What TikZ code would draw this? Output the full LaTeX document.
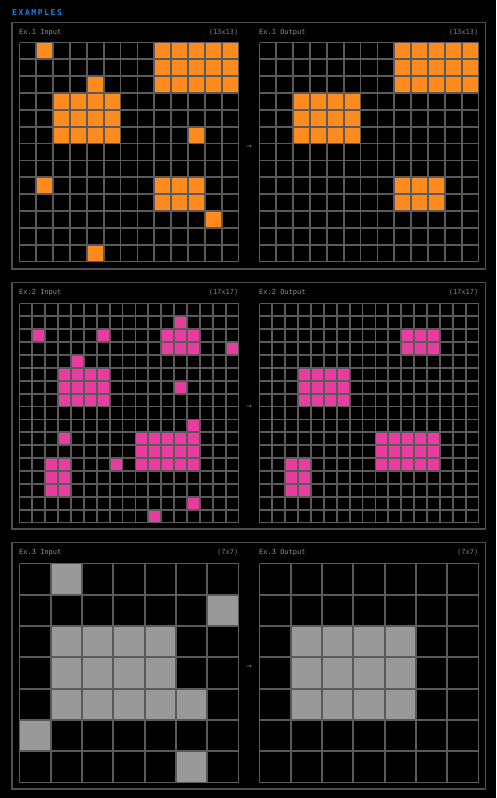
\documentclass[tikz,border=0pt]{standalone}
\usepackage{fontspec}
\setmonofont{DejaVu Sans Mono}
\newfontfamily\titlefont[LetterSpace=20]{DejaVu Sans Mono Bold}
\newfontfamily\arrowfont{DejaVu Sans}
\definecolor{bgc}{HTML}{000000}
\definecolor{gridc}{HTML}{5A5A5A}
\definecolor{panelc}{HTML}{4E4E4E}
\definecolor{labelc}{HTML}{929292}
\definecolor{dimc}{HTML}{808080}
\definecolor{bluec}{HTML}{1E80EA}
\definecolor{orangec}{HTML}{FF8A1E}
\definecolor{pinkc}{HTML}{E83CA0}
\definecolor{grayc}{HTML}{999999}
\tikzset{
  gridline/.style={draw=gridc, line width=1.8pt},
  panelbox/.style={draw=panelc, line width=1.1pt},
  lbl/.style={text=labelc, font=\ttfamily\fontsize{7}{7}\selectfont, inner sep=0pt},
  dimlbl/.style={text=dimc, font=\ttfamily\fontsize{7}{7}\selectfont, inner sep=0pt},
  arrowlbl/.style={text=labelc, font=\arrowfont\fontsize{6.5}{6.5}\selectfont, inner sep=0pt},
}
% #1 x0, #2 y0, #3 n, #4 size
\newcommand\mygrid[4]{%
  \pgfmathsetmacro\gcs{#4/#3}%
  \foreach \i in {0,...,#3} {
    \draw[gridline] (#1+\i*\gcs, #2) -- ++(0,#4);
    \draw[gridline] (#1, #2+\i*\gcs) -- ++(#4,0);
  }%
}
% #1 x0, #2 y0, #3 cell size, #4 colour, #5 list r1/c1/r2/c2
\newcommand\myblocks[5]{%
  \foreach \ra/\ca/\rb/\cb in {#5} {
    \fill[#4] (#1+\ca*#3, #2+\ra*#3) rectangle (#1+\cb*#3+#3, #2+\rb*#3+#3);
  }%
}
\begin{document}
\begin{tikzpicture}[x=1pt,y=-1pt]
\fill[bgc] (0,0) rectangle (496,798);
\useasboundingbox (0,0) rectangle (496,798);

\node[anchor=west, inner sep=0pt, text=bluec, font=\titlefont\fontsize{8}{8}\selectfont] (title) at (12,12.5) {EXAMPLES};

% ---------- Panel 1 ----------
\draw[panelbox] (12,22.5) rectangle (485.5,269);
\node[lbl, anchor=west] (l1a) at (19,32.5) {Ex.1 Input};
\node[dimlbl, anchor=east] (s1a) at (238.5,32.5) {(13x13)};
\node[lbl, anchor=west] (l1b) at (259,32.5) {Ex.1 Output};
\node[dimlbl, anchor=east] (s1b) at (478.5,32.5) {(13x13)};
\node[arrowlbl] (a1) at (249.2,147) {→};
\pgfmathsetmacro\csa{219/13}
\myblocks{19.5}{42.5}{\csa}{orangec}{0/1/0/1, 0/8/2/12, 2/4/2/4, 3/2/5/5, 5/10/5/10, 8/1/8/1, 8/8/9/10, 10/11/10/11, 12/4/12/4}
\mygrid{19.5}{42.5}{13}{219}
\myblocks{259.5}{42.5}{\csa}{orangec}{0/8/2/12, 3/2/5/5, 8/8/9/10}
\mygrid{259.5}{42.5}{13}{219}

% ---------- Panel 2 ----------
\draw[panelbox] (12,282.5) rectangle (485.5,529);
\node[lbl, anchor=west] (l2a) at (19,292.5) {Ex.2 Input};
\node[dimlbl, anchor=east] (s2a) at (238.5,292.5) {(17x17)};
\node[lbl, anchor=west] (l2b) at (259,292.5) {Ex.2 Output};
\node[dimlbl, anchor=east] (s2b) at (478.5,292.5) {(17x17)};
\node[arrowlbl] (a2) at (249.2,407) {→};
\pgfmathsetmacro\csb{219/17}
\myblocks{19.5}{303.5}{\csb}{pinkc}{1/12/1/12, 2/1/2/1, 2/6/2/6, 2/11/3/13, 3/16/3/16, 4/4/4/4, 5/3/7/6, 6/12/6/12, 9/13/9/13, 10/3/10/3, 10/9/12/13, 12/2/14/3, 12/7/12/7, 15/13/15/13, 16/10/16/10}
\mygrid{19.5}{303.5}{17}{219}
\myblocks{259.5}{303.5}{\csb}{pinkc}{2/11/3/13, 5/3/7/6, 10/9/12/13, 12/2/14/3}
\mygrid{259.5}{303.5}{17}{219}

% ---------- Panel 3 ----------
\draw[panelbox] (12,542.5) rectangle (485.5,789);
\node[lbl, anchor=west] (l3a) at (19,552.5) {Ex.3 Input};
\node[dimlbl, anchor=east] (s3a) at (238.5,552.5) {(7x7)};
\node[lbl, anchor=west] (l3b) at (259,552.5) {Ex.3 Output};
\node[dimlbl, anchor=east] (s3b) at (478.5,552.5) {(7x7)};
\node[arrowlbl] (a3) at (249.2,667) {→};
\pgfmathsetmacro\csc{219/7}
\myblocks{19.5}{563.5}{\csc}{grayc}{0/1/0/1, 1/6/1/6, 2/1/3/4, 4/1/4/5, 5/0/5/0, 6/5/6/5}
\mygrid{19.5}{563.5}{7}{219}
\myblocks{259.5}{563.5}{\csc}{grayc}{2/1/4/4}
\mygrid{259.5}{563.5}{7}{219}
\end{tikzpicture}
\end{document}
